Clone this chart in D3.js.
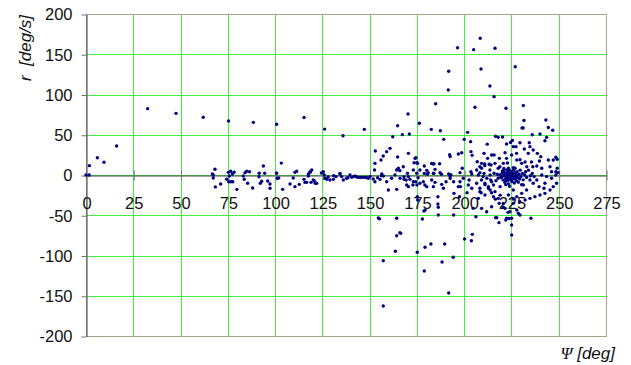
<!DOCTYPE html>
<html>
<head>
<meta charset="utf-8">
<script src="https://cdn.jsdelivr.net/npm/d3@7"></script>
<style>
  body { margin: 0; background: #fff; }
  text { font-family: Arial, "Liberation Sans", sans-serif; }
</style>
</head>
<body>
<div id="chart"></div>
<script>
var width = 631,
    height = 365;

var xTicks = [0, 25, 50, 75, 100, 125, 150, 175, 200, 225, 250, 275];
var yTicks = [-200, -150, -100, -50, 0, 50, 100, 150, 200];

// [psi (deg), r (deg/s)]
var earlyPoints = [[0,0],[1.7,0],[1.8,11.6],[6,21.5],[9.5,15.8],[16.2,36],[32.6,82.4],[47.6,76.6],
  [62,71.7],[75.4,67],[88.5,65.4],[100.8,63],[115.3,71.5],[103.3,14.8],[126.2,57],[135.9,48.8],[147.2,56.7]];

var lowBand = [[67.3,0],[68.2,7.2],[66.8,1.2],[67.3,-3.7],[68.4,-14.8],[71.2,-11.2],[74.4,-5.3],[75.3,3.3],
  [76.5,4.6],[75.8,-1.2],[75.5,-8.3],[76.6,-8.3],[77.6,-8.3],[77.4,1.2],[78.3,3.5],[79.8,-17.8],[83.2,-1.2],
  [84.1,2.9],[85,4.6],[83.7,-5.4],[85.5,-10.3],[88.1,-16.1],[86.5,4],[91.5,-2.1],[91.6,2.1],[93.8,11.2],
  [94.5,2.1],[92.9,-7.8],[92.2,-10.3],[96.1,-7.5],[97.3,-11.2],[97.3,-16.5],[100.8,2.1],[101.2,-4.1],
  [101.9,-3.7],[104,-17.8],[107.9,-11.2],[110.5,3.3],[111.4,4.6],[109.6,-3.7],[110.5,-14.5],[112.8,-11.6],
  [115.3,-5.4],[115.8,-9.1],[117.6,-1.2],[118.5,3.3],[119,-9.1],[120.7,-7.1],[122,-10.3],[116.7,-9.1],
  [118.5,4.1],[119.4,6.2],[117.6,1.2],[120.2,-6.2],[121.2,-10.3]];

var zeroRun = [[124.5,2.5],[125.5,4.1],[126,0],[126.4,-4.1],[127.3,-5.4],[128,-2.5],[129,-6.2],[130.8,-5.4],
  [131,-1],[132.2,-2],[134.3,1.2],[134.3,2],[135.2,-2],[136.1,-6.2],[137.8,-4.1],[138.5,-3.5],[139.6,0],
  [140.5,-2.9],[141.4,-2],[142.3,-1.2],[143.2,-2.5],[144,-2.9],[144.9,-2.9],[145.8,-2.9],[146.7,-2.9],
  [147.6,-2.9],[148.5,-3.3],[149.3,-4.1],[150.2,-2],[151.9,-4.9],[152.8,-8.3],[152.6,6.2],[154.2,-3.3],
  [155.5,-5.4],[156.3,-0.8],[156.4,1.2],[157.3,-1.2],[159,-8.3],[159.9,-18.6],[161.6,-4.1],[163.4,0],
  [164.3,6.2],[165.2,8.3],[166.1,-4.1],[164.3,-17.8],[168.2,-2],[169.3,-6.2],[170.5,-2]];

var upperScatter = [[153,29.8],[152.8,14.5],[156,18.6],[157.2,23.6],[159,29],[160.8,33.1],[162.2,47.6],
  [164.8,61.2],[164.8,22.4],[167.3,50.1],[170.3,75.8],[171,50.9],[170.5,26.9],[174.5,21.5],[176.3,64.2],
  [175.3,14.5],[182.6,56.7],[184.9,88.6],[187.4,55],[189.2,44.3],[191.6,105.6],[191.8,128.8],[196.5,158.1],
  [205,155.7],[208.5,169.8],[216.3,157.4],[208.9,131.7],[213.6,110.6],[215.8,97.3],[205.7,84.1],[201.8,53],
  [200,44.3],[203.4,41.4],[227,134.5],[222.1,83],[231.3,86.3],[231.6,67.7],[230.6,58.4],[231.2,58.4],
  [243.2,68.3],[244.5,59],[246.8,55.5],[240.1,50.9],[236,50],[243.6,46.8],[242.7,42.6],[216.6,48.2],
  [218,46.8],[220.3,47.2],[225.5,43],[212.2,38.3],[222.4,38.5],[224.5,40.4],[229.5,40.1],[227.4,35.2],
  [234.4,40.1],[231.8,32.3],[234.8,35.2],[236.5,31.1],[233.9,26.9],[238.7,26.9],[240.5,22.8],[239.8,17.4],
  [244.5,18.6],[247.1,18.6],[248.5,22],[249.2,19.5],[245.4,10.3],[248.5,4.1],[249.2,8.3],[249.6,2.9],
  [210.5,26.9],[215.8,24.8],[218.6,20.7],[221.6,27.7],[222.4,20.7],[210.8,13.7],[214.2,12.4],[216.3,14.5],
  [220.7,14.5],[222.9,15],[225.1,24.8],[227.7,26.9],[227.8,18.6],[229.5,19],[230.4,14.5],[232.2,16.2],
  [233.1,10.3],[235.6,16.2],[236.3,10.3],[238.4,11.2],[241,8.3],[226.9,8.3],[223.4,8.3],[218,8.3],
  [213.6,6.2],[209.2,8.3],[208.3,2.9],[226,35.2]];

var middleBand = [[174,20.7],[175,15.3],[192.3,25.3],[192.6,23],[196.9,26.1],[198.7,27.7],[203.6,29],
  [204.2,24.4],[206.9,16.5],[209.2,14.5],[212.4,20.7],[214.5,24.8],[208.3,10.3],[210.9,11.6],[213.2,13.3],
  [167.8,10.3],[166,5.4],[168.2,-5.4],[170,2.1],[173.1,6.2],[174.9,2.1],[173.5,15.3],[176.6,6.2],
  [178.9,11.2],[180.2,5.8],[182.8,14.3],[183.7,13.7],[184.6,7],[181,2.9],[183.7,2.1],[187.2,2.9],
  [191.8,1.2],[193,0.4],[192.5,-1],[197.8,2.9],[199,8.3],[203.6,4.1],[206.6,6.2],[204,1.2],[207.5,0],
  [210.5,2],[210,-2],[213.7,0],[215.8,2.1],[218.9,10.3],[171.3,-5.4],[173.1,-8.3],[175.6,-3.3],
  [170.5,-14.5],[169.6,-12.4],[175,-12.4],[178.4,-8.3],[182.8,-6.2],[184.6,-9.1],[180.2,-14.5],
  [183.7,-14.5],[188.1,-11.6],[189,-16.5],[190.4,-8.3],[192.6,-4.1],[194.4,-8.3],[196.9,-14.5],
  [197.8,-8.3],[199.5,-4.1],[202.2,-12.4],[204,-16.5],[206.6,-10.3],[208.3,-16.5],[211,-10.3],
  [212.8,-16.5],[214.5,-8.3],[219,-14.5],[172.9,-12.4],[174.4,-8.3],[176.6,-10.3],[179.2,-12.4],
  [178.9,2],[180.5,1],[184,14],[184,2],[187,14],[188,1]];

var lowerScatter = [[154.6,-53.4],[155.2,-54.5],[164.3,-53.8],[164.3,-75.4],[166.4,-72.5],[166,-71.6],
  [163.6,-94.8],[157.2,-106.5],[157.2,-162.7],[175.2,-96],[177.9,-54.7],[178.7,-44.7],[179.4,-43.5],
  [179.3,-89.8],[182.4,-85.7],[178.9,-119.3],[188.3,-108],[189.7,-85.7],[191.8,-146.6],[194.2,-102.2],
  [200.2,-79.5],[203.8,-81.6],[204.3,-73.7],[206.2,-51.8],[194.4,-49.7],[186.1,-27],[186.1,-36],
  [186.3,-40],[186.3,-49.7],[175.2,-27],[175.4,-31],[201.5,-22],[204.8,-41.4],[209.2,-41.4],[197.5,-27],
  [198,-14.5],[194.6,-22.8],[211.9,-45.6],[214.5,-22],[216.5,-30],[218.5,-35],[220.7,-40],[209,-22],
  [211,-24.8],[207.5,-29],[208.3,-20.7],[202.6,-6.2],[212,-4],[214,-6]];

var rightLower = [[209.2,-6.2],[211,-12],[212.8,-14.5],[213.7,-18.6],[215.5,-12.4],[216.3,-20.7],[218,-29],
  [215.5,-27],[214.5,-39.4],[216.6,-53],[217.2,-53],[218.4,-59.2],[222.4,-53.8],[222,-56],[223.7,-54],
  [225.1,-53.8],[225.1,-62.1],[225.1,-74.5],[224.2,-45.6],[223.2,-46.4],[227.8,-43.5],[229.5,-49.7],
  [228.6,-47.6],[235.3,-53.8],[221.6,-41.4],[220.7,-35.2],[226,-35.2],[229.5,-33.1],[232.2,-31.1],
  [234.8,-29],[237.4,-26.9],[240.1,-24.8],[242.7,-22.8],[245.4,-18.6],[247.1,-14.5],[248.9,-10.3],
  [242.2,-16.5],[239.6,-14.5],[236.5,-10.3],[238.4,-6.2],[234.8,-6.2],[231.3,-12.4],[233,-18.6],
  [230.4,-22.8],[227.8,-26.9],[226,-18.6],[223.4,-24.8],[246.2,-4.1],[243.6,-2],[242.7,-10.3],[241,0],
  [246.2,4.1],[248.5,0],[219,-25],[226,-30]];

var coreCluster = [[219,0],[219.5,-3],[220,2],[220.5,-6],[221,4],[221,-1],[221.5,-9],[222,1],[222,-4],
  [222.5,6],[222.5,-2],[223,-7],[223,3],[223.3,0],[223.5,-11],[223.8,-4],[224,2],[224,5],[224.2,-1],
  [224.5,-6],[224.6,-2],[224.8,1],[225,-3],[225,4],[225.2,-8],[225.4,0],[225.6,-5],[225.8,2],[226,-1],
  [226,6],[226.3,-3],[226.5,-10],[226.7,1],[227,-5],[227,3],[227.3,-2],[227.6,-7],[227.8,0],[228,4],
  [228.3,-3],[228.6,-9],[229,1],[229.3,-5],[229.6,6],[230,-2],[230.4,-12],[230.8,2],[231.2,-6],[232,0],
  [232.5,4],[233,-3],[234,6],[235,-1],[236,2],[237,-2],[218,-4],[217.5,1],[216.8,-7],[224,-14],
  [222,-12],[226,9],[221,8],[220,-2],[221.5,2],[222.8,-5],[223.6,7],[220.2,5],[221.8,-7]];

var points = [].concat(earlyPoints, lowBand, zeroRun, upperScatter, middleBand, lowerScatter, rightLower, coreCluster);

var x = d3.scaleLinear().domain([0, 275]).range([86, 606]);
var y = d3.scaleLinear().domain([-200, 200]).range([336, 14]);

// plain hyphen for negatives, like the original
var plain = function(d){ return String(d); };

var svg = d3.select("#chart").append("svg")
    .attr("width", width)
    .attr("height", height);

// grid
svg.append("g").selectAll("line")
    .data(xTicks.slice(1))
  .enter().append("line")
    .attr("x1", function(d){ return Math.round(x(d)) + 0.5; })
    .attr("x2", function(d){ return Math.round(x(d)) + 0.5; })
    .attr("y1", y(200))
    .attr("y2", y(-200))
    .attr("stroke", "#44ee44");

svg.append("g").selectAll("line")
    .data(yTicks)
  .enter().append("line")
    .attr("x1", x(0))
    .attr("x2", x(275))
    .attr("y1", function(d){ return Math.round(y(d)) + 0.5; })
    .attr("y2", function(d){ return Math.round(y(d)) + 0.5; })
    .attr("stroke", "#44ee44");

// plot border
svg.append("rect")
    .attr("x", x(0) + 0.5)
    .attr("y", y(200) + 0.5)
    .attr("width", x(275) - x(0))
    .attr("height", y(-200) - y(200))
    .attr("fill", "none")
    .attr("stroke", "#a3a38a");

// y axis
var yAxis = svg.append("g")
    .attr("transform", "translate(" + (x(0) + 0.5) + ",0.5)")
    .call(d3.axisLeft(y).tickValues(yTicks).tickFormat(plain)
      .tickSizeInner(5).tickSizeOuter(0).tickPadding(9));

// x axis along r = 0
var xAxis = svg.append("g")
    .attr("transform", "translate(0.5," + (Math.round(y(0)) + 0.5) + ")")
    .call(d3.axisBottom(x).tickValues(xTicks).tickFormat(plain)
      .tickSizeInner(5).tickSizeOuter(0));

xAxis.selectAll(".tick line").attr("y1", -5).attr("y2", 5);
xAxis.selectAll(".tick text").attr("y", 33).attr("dy", 0);

[yAxis, xAxis].forEach(function(g){
  g.select(".domain").attr("stroke", "#444");
  g.selectAll(".tick line").attr("stroke", "#777");
  g.selectAll(".tick text")
      .attr("fill", "#111")
      .style("font-size", "16.5px")
      .style("font-family", "Arial, 'Liberation Sans', sans-serif");
});
xAxis.selectAll(".tick").filter(function(d){ return d === 0; }).select("line").remove();

// points
svg.append("g").selectAll("circle")
    .data(points)
  .enter().append("circle")
    .attr("cx", function(d){ return x(d[0]); })
    .attr("cy", function(d){ return y(d[1]); })
    .attr("r", 1.7)
    .attr("fill", "#000080");

// axis titles
svg.append("text")
    .attr("transform", "translate(31,48) rotate(-90)")
    .attr("text-anchor", "middle")
    .style("font-size", "17px")
    .style("font-style", "italic")
    .style("white-space", "pre")
    .attr("fill", "#111")
    .text("r  [deg/s]");

var xTitle = svg.append("text")
    .attr("x", 615)
    .attr("y", 359)
    .attr("text-anchor", "end")
    .style("font-size", "17px")
    .style("font-style", "italic")
    .attr("fill", "#111");
xTitle.append("tspan")
    .style("font-family", "'Liberation Serif', serif")
    .text("\u03A8");
xTitle.append("tspan").text(" [deg]");
</script>
</body>
</html>
